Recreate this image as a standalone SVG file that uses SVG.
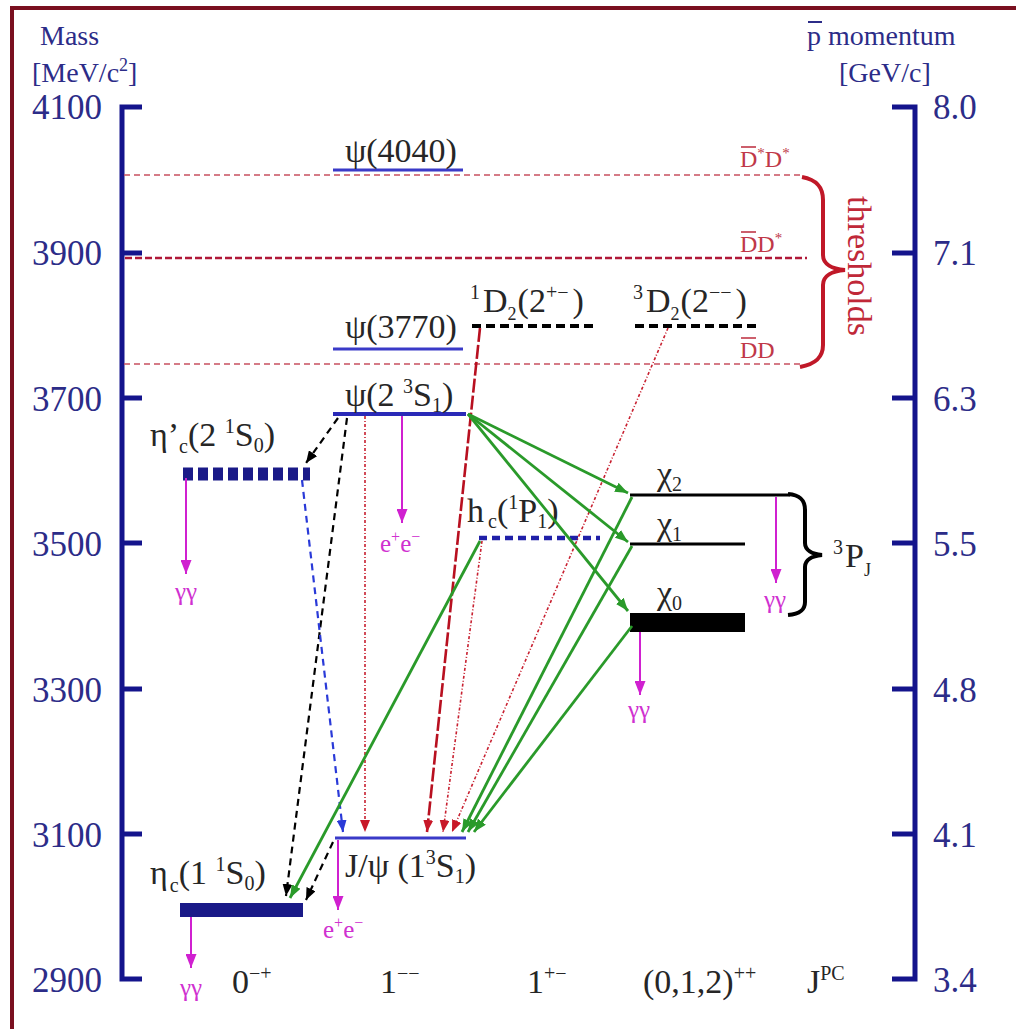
<svg xmlns="http://www.w3.org/2000/svg" width="1016" height="1029" viewBox="0 0 1016 1029">
<style>
.t{font-family:"Liberation Serif","Times New Roman",serif;}
.ax{font-family:"Liberation Serif",serif;font-size:35px;fill:#2c2c88;}
.hd{font-family:"Liberation Serif",serif;font-size:28px;fill:#2c2c88;}
.lab{font-family:"Liberation Serif",serif;font-size:34px;fill:#262626;}
.thr{font-family:"Liberation Serif",serif;font-size:24px;fill:#c03848;}
.mg{font-family:"Liberation Serif",serif;font-size:25px;fill:#d030d0;}
.axis{stroke:#14148c;stroke-width:5;fill:none;}
.tick{stroke:#14148c;stroke-width:5;}
.thin{stroke:#c85060;stroke-width:1.3;stroke-dasharray:6 4;fill:none;}
.thick{stroke:#b01838;stroke-width:2.6;stroke-dasharray:7 3;fill:none;}
.psi{stroke:#3a3ac8;stroke-width:3;}
.kd{stroke:#000;stroke-width:4;stroke-dasharray:9 5;}
.cb{stroke:#000;stroke-width:2.2;stroke-dasharray:7 5;fill:none;marker-end:url(#ak);}
.cbl{stroke:#2a3ad8;stroke-width:2.2;stroke-dasharray:7 5;fill:none;marker-end:url(#ab);}
.crd{stroke:#c82030;stroke-width:1.6;stroke-dasharray:3 2 1 2;fill:none;marker-end:url(#ar);}
.crl{stroke:#b81020;stroke-width:2.6;stroke-dasharray:14 3;fill:none;marker-end:url(#ar);}
.cg{stroke:#2a9a2a;stroke-width:2.8;fill:none;marker-end:url(#ag);}
.cm{stroke:#d020d0;stroke-width:2;fill:none;marker-end:url(#am);}
</style>
<defs>
<marker id="ak" markerUnits="userSpaceOnUse" markerWidth="12" markerHeight="10" refX="12" refY="5" orient="auto"><path d="M0,0 L12,5 L0,10 z" fill="#000"/></marker>
<marker id="ab" markerUnits="userSpaceOnUse" markerWidth="12" markerHeight="10" refX="12" refY="5" orient="auto"><path d="M0,0 L12,5 L0,10 z" fill="#2a3ad8"/></marker>
<marker id="ar" markerUnits="userSpaceOnUse" markerWidth="12" markerHeight="10" refX="12" refY="5" orient="auto"><path d="M0,0 L12,5 L0,10 z" fill="#c81828"/></marker>
<marker id="ag" markerUnits="userSpaceOnUse" markerWidth="13" markerHeight="10" refX="13" refY="5" orient="auto"><path d="M0,0 L13,5 L0,10 z" fill="#2a9a2a"/></marker>
<marker id="am" markerUnits="userSpaceOnUse" markerWidth="14" markerHeight="11" refX="14" refY="5.5" orient="auto"><path d="M0,0 L14,5.5 L0,11 z" fill="#d020d0"/></marker>
</defs>
<rect x="0" y="0" width="1016" height="1029" fill="#fff"/>
<rect x="12" y="8" width="1010" height="1024" fill="none" stroke="#7a1020" stroke-width="4"/>

<g id="left-axis">
<path class="axis" d="M142,107 H122 V979 H142"/>
<line class="tick" x1="122" y1="253" x2="142" y2="253"/>
<line class="tick" x1="122" y1="398" x2="142" y2="398"/>
<line class="tick" x1="122" y1="543" x2="142" y2="543"/>
<line class="tick" x1="122" y1="689" x2="142" y2="689"/>
<line class="tick" x1="122" y1="834" x2="142" y2="834"/>
<text class="hd" x="40" y="45">Mass</text>
<text class="hd" x="32" y="82">[MeV/c<tspan font-size="18" dy="-11">2</tspan><tspan dy="11">]</tspan></text>
<g text-anchor="end">
<text class="ax" x="102" y="119">4100</text>
<text class="ax" x="102" y="265">3900</text>
<text class="ax" x="102" y="411">3700</text>
<text class="ax" x="102" y="556">3500</text>
<text class="ax" x="102" y="702">3300</text>
<text class="ax" x="102" y="847">3100</text>
<text class="ax" x="102" y="992">2900</text>
</g>
</g>

<g id="right-axis">
<path class="axis" d="M892,107 H915 V979 H892"/>
<line class="tick" x1="892" y1="253" x2="915" y2="253"/>
<line class="tick" x1="892" y1="398" x2="915" y2="398"/>
<line class="tick" x1="892" y1="543" x2="915" y2="543"/>
<line class="tick" x1="892" y1="689" x2="915" y2="689"/>
<line class="tick" x1="892" y1="834" x2="915" y2="834"/>
<text class="hd" x="807" y="45">p momentum</text>
<line x1="808" y1="22" x2="822" y2="22" stroke="#2c2c88" stroke-width="2"/>
<text class="hd" x="839" y="82">[GeV/c]</text>
<text class="ax" x="933" y="119">8.0</text>
<text class="ax" x="933" y="265">7.1</text>
<text class="ax" x="933" y="411">6.3</text>
<text class="ax" x="933" y="556">5.5</text>
<text class="ax" x="933" y="702">4.8</text>
<text class="ax" x="933" y="847">4.1</text>
<text class="ax" x="933" y="992">3.4</text>
</g>

<g id="thresholds">
<line class="thin" x1="124" y1="175" x2="803" y2="175"/>
<line class="thick" x1="125" y1="258" x2="807" y2="258"/>
<line class="thin" x1="124" y1="364" x2="803" y2="364"/>
<text class="thr" x="740" y="167">D<tspan font-size="15" dy="-9">*</tspan><tspan dy="9">D</tspan><tspan font-size="15" dy="-9">*</tspan></text>
<line x1="741" y1="147" x2="756" y2="147" stroke="#c03848" stroke-width="1.6"/>
<text class="thr" x="740" y="252">DD<tspan font-size="15" dy="-9">*</tspan></text>
<line x1="741" y1="232" x2="756" y2="232" stroke="#c03848" stroke-width="1.6"/>
<text class="thr" x="740" y="358">DD</text>
<line x1="741" y1="338" x2="756" y2="338" stroke="#c03848" stroke-width="1.6"/>
<path d="M802,177 C818,180 823,188 823,200 V255 C823,264 832,269 845,270 C832,271 823,276 823,285 V345 C823,357 816,364 800,367" fill="none" stroke="#c01828" stroke-width="4"/>
<text transform="translate(848,266) rotate(90)" text-anchor="middle" class="t" font-size="34" fill="#c02838">thresholds</text>
</g>

<g id="psi4040">
<line class="psi" x1="333" y1="170" x2="463" y2="170"/>
<text class="lab" x="345" y="162">ψ(4040)</text>
</g>
<g id="psi3770">
<line class="psi" x1="333" y1="349" x2="463" y2="349"/>
<text class="lab" x="345" y="338">ψ(3770)</text>
</g>
<g id="psi2S">
<line x1="333" y1="414" x2="466" y2="414" stroke="#2a2ab8" stroke-width="4"/>
<text class="lab" x="345" y="406">ψ(2 <tspan font-size="20" dy="-13">3</tspan><tspan dy="13">S</tspan><tspan font-size="20" dy="6">1</tspan><tspan dy="-6">)</tspan></text>
</g>
<g id="D1">
<line class="kd" x1="472" y1="326" x2="594" y2="326"/>
<text class="lab" x="470" y="312"><tspan font-size="20" dy="-13">1</tspan><tspan dx="3" dy="13">D</tspan><tspan font-size="18" dy="8">2</tspan><tspan dx="1" dy="-8">(2</tspan><tspan font-size="20" dy="-13">+−</tspan><tspan dx="4" dy="13">)</tspan></text>
</g>
<g id="D3">
<line class="kd" x1="635" y1="326" x2="757" y2="326"/>
<text class="lab" x="633" y="312"><tspan font-size="20" dy="-13">3</tspan><tspan dx="3" dy="13">D</tspan><tspan font-size="18" dy="8">2</tspan><tspan dx="1" dy="-8">(2</tspan><tspan font-size="20" dy="-13">−−</tspan><tspan dx="4" dy="13">)</tspan></text>
</g>
<g id="etac2S">
<line x1="183" y1="474" x2="310" y2="474" stroke="#1a1a88" stroke-width="13" stroke-dasharray="10 5"/>
<text class="lab" x="150" y="446">η’<tspan font-size="20" dy="7">c</tspan><tspan dy="-7">(2 </tspan><tspan font-size="20" dy="-13">1</tspan><tspan dy="13">S</tspan><tspan font-size="20" dy="6">0</tspan><tspan dy="-6">)</tspan></text>
</g>
<g id="hc">
<line x1="479" y1="538" x2="600" y2="538" stroke="#2020a8" stroke-width="4.5" stroke-dasharray="8 5"/>
<text class="lab" x="467" y="522">h<tspan font-size="20" dx="4" dy="6">c</tspan><tspan dy="-6">(</tspan><tspan font-size="20" dy="-13">1</tspan><tspan dy="13">P</tspan><tspan font-size="20" dy="6">1</tspan><tspan dy="-6">)</tspan></text>
</g>
<g id="chi2">
<line x1="630" y1="495" x2="790" y2="495" stroke="#000" stroke-width="3"/>
<text class="lab" x="657" y="485">χ<tspan font-size="20" dy="6">2</tspan></text>
</g>
<g id="chi1">
<line x1="630" y1="544" x2="745" y2="544" stroke="#000" stroke-width="3"/>
<text class="lab" x="657" y="535">χ<tspan font-size="20" dy="6">1</tspan></text>
</g>
<g id="chi0">
<rect x="630" y="613" width="115" height="19" fill="#000"/>
<text class="lab" x="657" y="604">χ<tspan font-size="20" dy="6">0</tspan></text>
</g>
<g id="PJ">
<path d="M788,494 C800,495 805,500 805,510 V543 C805,550 812,554 822,555 C812,556 805,560 805,567 V602 C805,610 800,614 788,615" fill="none" stroke="#000" stroke-width="4"/>
<text class="lab" x="833" y="567"><tspan font-size="20" dy="-13">3</tspan><tspan dx="2" dy="13">P</tspan><tspan font-size="18" dy="9">J</tspan></text>
</g>
<g id="jpsi">
<line class="psi" x1="335" y1="838" x2="466" y2="838"/>
<text class="lab" x="345" y="877">J/ψ (1<tspan font-size="20" dy="-13">3</tspan><tspan dy="13">S</tspan><tspan font-size="20" dy="6">1</tspan><tspan dy="-6">)</tspan></text>
</g>
<g id="etac1S">
<rect x="180" y="903" width="123" height="14" fill="#1a1a88"/>
<text class="lab" x="150" y="884">η<tspan font-size="20" dx="2" dy="8">c</tspan><tspan dy="-8">(1 </tspan><tspan font-size="20" dy="-13">1</tspan><tspan dy="13">S</tspan><tspan font-size="20" dy="6">0</tspan><tspan dy="-6">)</tspan></text>
</g>

<g id="jpc-labels">
<text class="lab" x="232" y="993">0<tspan font-size="20" dy="-13">−+</tspan></text>
<text class="lab" x="380" y="993">1<tspan font-size="20" dy="-13">−−</tspan></text>
<text class="lab" x="527" y="993">1<tspan font-size="20" dy="-13">+−</tspan></text>
<text class="lab" x="643" y="993">(0,1,2)<tspan font-size="20" dy="-13">++</tspan></text>
<text class="lab" x="807" y="993">J<tspan font-size="20" dy="-13">PC</tspan></text>
</g>

<g id="connectors">
<line class="cb" x1="338" y1="418" x2="306" y2="463"/>
<line class="cb" x1="347" y1="418" x2="286" y2="896"/>
<line class="cb" x1="333" y1="842" x2="306" y2="900"/>
<line class="cbl" x1="302" y1="480" x2="343" y2="832"/>
<line class="crd" x1="365" y1="416" x2="365" y2="832"/>
<line class="crl" x1="480" y1="328" x2="427" y2="832"/>
<line class="crd" x1="482" y1="541" x2="443" y2="832"/>
<line class="crd" x1="668" y1="328" x2="452" y2="832"/>
<line class="cg" x1="468" y1="414" x2="628" y2="493"/>
<line class="cg" x1="468" y1="414" x2="628" y2="542"/>
<line class="cg" x1="468" y1="414" x2="628" y2="611"/>
<line class="cg" x1="632" y1="497" x2="462" y2="832"/>
<line class="cg" x1="632" y1="546" x2="468" y2="832"/>
<line class="cg" x1="632" y1="626" x2="474" y2="832"/>
<line class="cg" x1="480" y1="541" x2="290" y2="898"/>
<line class="cm" x1="186" y1="478" x2="186" y2="574"/>
<line class="cm" x1="402" y1="416" x2="402" y2="523"/>
<line class="cm" x1="776" y1="497" x2="776" y2="583"/>
<line class="cm" x1="640" y1="632" x2="640" y2="695"/>
<line class="cm" x1="338" y1="840" x2="338" y2="910"/>
<line class="cm" x1="191" y1="917" x2="191" y2="968"/>
<text class="mg" x="175" y="600">γγ</text>
<text class="mg" x="380" y="552">e<tspan font-size="16" dy="-10">+</tspan><tspan dy="10">e</tspan><tspan font-size="16" dy="-10">−</tspan></text>
<text class="mg" x="764" y="608">γγ</text>
<text class="mg" x="628" y="718">γγ</text>
<text class="mg" x="323" y="938">e<tspan font-size="16" dy="-10">+</tspan><tspan dy="10">e</tspan><tspan font-size="16" dy="-10">−</tspan></text>
<text class="mg" x="180" y="996">γγ</text>
</g>
</svg>
